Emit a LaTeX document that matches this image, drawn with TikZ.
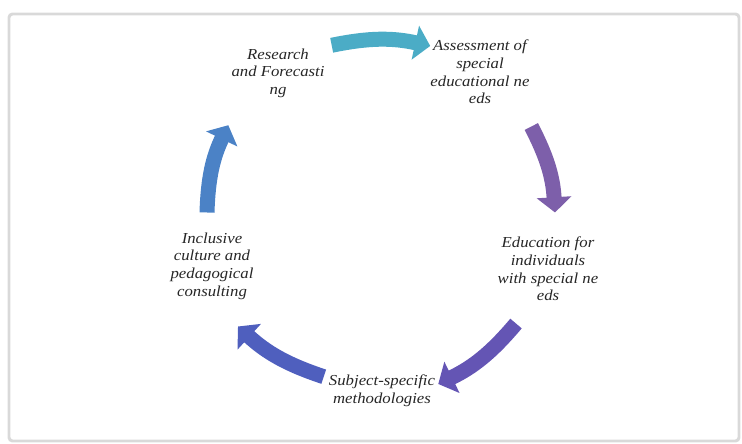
\documentclass[tikz,border=0pt]{standalone}
\usepackage{fontspec}
\setmainfont{Liberation Serif}[FakeStretch=1.1]
\usetikzlibrary{arrows.meta}

\definecolor{ring1}{HTML}{4BACC6}
\definecolor{ring2}{HTML}{7D5FAA}
\definecolor{ring3}{HTML}{6455B4}
\definecolor{ring4}{HTML}{4F5FBE}
\definecolor{ring5}{HTML}{4B82C6}

\begin{document}
\begin{tikzpicture}[
        x=0.03cm, y=0.03cm,
        every node/.append style={font=\itshape\fontsize{13}{15}\selectfont, text=black!85, align=center, inner sep=0pt},
        ringarrow/.style={line width=12.8pt, -{Triangle[width=29pt,length=13pt]}, bend left=12}
    ]
        \useasboundingbox (0,0) rectangle (742,444);
        \draw[black!15, line width=2.5pt, rounded corners=3pt] (9,430) rectangle (739,3);

        \node (1) at (278,371) {Research\\and Forecasti\\ng};
        \node (2) at (480,372) {Assessment of\\special\\educational ne\\eds};
        \node (3) at (548,175) {Education for\\individuals\\with special ne\\eds};
        \node (4) at (382,53) {Subject-specific\\methodologies};
        \node (5) at (212,178) {Inclusive\\culture and\\pedagogical\\consulting};

        \draw[ringarrow, ring1] ([shift={(7,3)}]1.north east) to ([shift={(0,-6)}]2.north west);
        \draw[ringarrow, ring2] ([shift={(1.5,-22.5)}]2.south east) to ([shift={(7,24.5)}]3.north);
        \draw[ringarrow, ring3] ([shift={(18.5,-22.5)}]3.south west) to ([shift={(3,7)}]4.east);
        \draw[ringarrow, ring4] ([shift={(-5,-1.7)}]4.north west) to ([shift={(26,-27)}]5.south);
        \draw[ringarrow, ring5] ([shift={(-5,20)}]5.north) to ([shift={(-3,-27.5)}]1.south west);
\end{tikzpicture}
\end{document}
